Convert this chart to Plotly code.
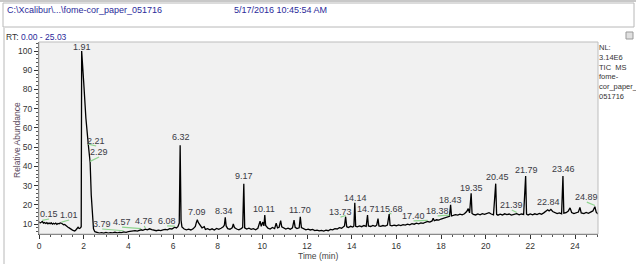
import plotly.graph_objects as go

# ---- data ----
rt = [0.00,0.05,0.10,0.15,0.20,0.25,0.30,0.35,0.40,0.45,0.50,0.55,0.60,0.65,0.70,0.75,0.80,0.85,0.90,0.95,
      1.01,1.05,1.10,1.15,1.20,1.25,1.30,1.35,1.40,1.45,1.50,1.55,1.60,1.65,1.70,1.75,1.80,1.85,1.89,1.91,
      2.00,2.10,2.21,2.29,2.34,2.39,2.44,2.50,2.60,2.70,2.80,2.90,3.00,3.10,3.20,3.30,3.40,3.50,3.60,3.70,
      3.79,3.90,4.00,4.10,4.20,4.30,4.40,4.50,4.57,4.65,4.76,4.85,4.95,5.05,5.15,5.25,5.35,5.45,5.55,5.65,
      5.75,5.85,5.95,6.08,6.15,6.22,6.28,6.32,6.36,6.40,6.50,6.60,6.70,6.80,6.90,7.00,7.05,7.09,7.13,7.20,
      7.30,7.40,7.45,7.55,7.65,7.75,7.85,7.95,8.05,8.15,8.25,8.30,8.34,8.38,8.45,8.55,8.65,8.70,8.75,8.85,
      8.95,9.05,9.12,9.17,9.21,9.30,9.40,9.50,9.60,9.70,9.80,9.90,9.95,10.02,10.07,10.11,10.15,10.25,10.35,10.45,
      10.55,10.62,10.68,10.75,10.82,10.87,10.95,11.05,11.15,11.25,11.35,11.42,11.47,11.55,11.65,11.70,11.75,11.85,11.95,12.05,
      12.15,12.25,12.35,12.45,12.55,12.65,12.75,12.85,12.95,13.05,13.15,13.25,13.35,13.45,13.55,13.62,13.68,13.73,13.78,13.85,
      13.95,14.05,14.10,14.14,14.18,14.25,14.35,14.45,14.55,14.65,14.71,14.75,14.85,14.95,15.05,15.12,15.18,15.22,15.30,15.40,
      15.50,15.60,15.68,15.72,15.80,15.90,16.00,16.10,16.20,16.30,16.40,16.50,16.60,16.70,16.80,16.90,17.00,17.10,17.20,17.30,
      17.40,17.50,17.60,17.65,17.70,17.80,17.90,18.00,18.10,18.20,18.30,18.38,18.43,18.47,18.55,18.65,18.75,18.85,18.95,19.05,
      19.15,19.22,19.28,19.35,19.39,19.45,19.55,19.65,19.75,19.85,19.95,20.05,20.15,20.25,20.35,20.45,20.49,20.55,20.65,20.75,
      20.85,20.95,21.05,21.15,21.25,21.39,21.50,21.60,21.70,21.79,21.83,21.90,22.00,22.10,22.20,22.30,22.40,22.50,22.60,22.70,
      22.78,22.84,22.92,23.00,23.10,23.20,23.30,23.40,23.46,23.50,23.60,23.70,23.78,23.85,23.95,24.05,24.15,24.22,24.28,24.40,
      24.50,24.60,24.70,24.80,24.89,24.95,25.03]
abundance = [11.2,10.6,10.9,11.3,10.5,10.8,10.3,10.7,10.1,10.5,10.2,10.6,9.9,10.4,10.0,10.5,9.8,10.3,10.1,10.6,
             10.4,9.9,9.6,9.8,9.1,8.8,8.3,8.0,7.5,7.2,6.8,6.6,6.4,6.9,7.6,8.3,7.7,7.9,8.6,100,
             84,65,51,42,25,12,7.5,6.0,5.6,5.3,5.5,5.2,5.6,5.3,5.5,5.4,5.7,5.4,5.6,5.5,
             5.9,5.7,6.0,6.2,6.1,6.5,6.3,6.8,7.0,6.7,7.3,7.0,7.5,7.1,6.8,6.5,6.8,6.6,7.0,7.2,
             7.0,7.6,7.4,8.3,7.9,8.6,10.5,51,12,8.5,7.4,7.0,7.3,6.9,7.5,8.8,11.0,12.2,10.8,9.5,
             8.0,8.6,7.2,7.6,7.0,7.5,6.9,7.7,7.2,7.8,8.5,9.5,13.5,9.0,7.6,7.3,8.0,10.0,8.2,7.4,
             7.0,7.6,8.2,31,8.0,7.4,7.8,7.2,7.6,7.0,7.8,11.5,8.8,11.0,9.0,14.6,9.2,7.8,7.4,8.2,
             7.6,10.4,8.0,8.3,11.8,8.5,7.9,7.4,7.8,7.3,8.0,12.0,8.3,7.6,8.0,13.8,8.2,7.4,7.0,7.3,
             6.9,7.2,6.6,6.8,6.4,6.7,6.3,6.8,6.5,7.2,7.0,7.6,7.4,8.1,7.8,8.4,9.0,13.8,8.6,8.2,
             8.8,8.4,9.0,21,8.8,8.5,9.0,8.6,9.2,8.8,14.6,9.0,8.7,9.3,8.8,9.4,12.8,9.0,8.8,9.2,
             8.9,9.4,15.2,9.3,9.0,9.4,9.1,9.5,9.2,9.7,9.4,9.9,9.6,10.2,9.9,10.4,10.1,10.6,10.3,10.9,
             11.3,11.0,11.6,13.0,11.7,12.2,12.0,12.6,12.9,13.2,13.6,14.0,20,14.2,14.5,14.9,14.6,15.1,14.8,15.3,
             16.5,18.0,15.8,26,15.5,15.0,14.7,15.2,14.8,15.4,15.0,15.6,15.9,15.2,14.8,31,15.0,14.6,15.1,14.7,
             15.3,14.9,15.2,14.6,15.0,15.4,14.8,15.2,15.0,35,15.1,14.7,15.2,14.8,15.3,14.9,15.5,15.1,15.8,16.6,
             17.4,16.8,17.6,16.5,16.0,15.4,15.8,15.3,35,15.6,15.9,16.8,18.4,16.0,15.4,15.7,16.2,18.6,15.8,15.4,
             16.0,15.6,16.4,16.8,19.0,16.2,15.2]

peak_labels = ["1.91","2.21","2.29","0.15","1.01","3.79","4.57","4.76","6.08","6.32","7.09","8.34","9.17",
               "10.11","11.70","13.73","14.14","14.71","15.68","17.40","18.38","18.43","19.35","20.45",
               "21.39","21.79","22.84","23.46","24.89"]
# label anchor positions (time, abundance) where the software placed the text
label_x = [1.93,2.56,2.69,0.45,1.35,2.83,3.72,4.71,5.74,6.37,7.09,8.30,9.19,
           10.09,11.70,13.50,14.17,14.75,15.78,16.77,17.85,18.43,19.37,20.54,
           21.17,21.84,22.83,23.50,24.53]
label_y = [102.1,53.2,47.5,15.2,14.7,10.0,11.0,11.6,11.6,55.3,16.2,16.8,35.0,
           17.8,17.3,16.2,23.5,17.8,17.8,14.2,16.8,22.5,28.7,34.5,
           19.9,38.1,21.4,38.6,24.0]
# labels displaced from their peak get a green leader line
leader_labels = ["2.21","2.29","0.15","1.01","3.79","4.57","4.76","6.08","13.73","15.68","17.40","18.38","21.39","24.89"]
leader_from_y = [51,42,11.3,10.4,5.9,7.0,7.3,8.3,13.8,15.2,11.3,14.0,15.4,19.0]

fig = go.Figure()
fig.add_trace(go.Scatter(x=rt, y=abundance, mode="lines",
                         line=dict(color="black", width=1.3), hoverinfo="skip", showlegend=False))

shapes = []
for name, fy in zip(leader_labels, leader_from_y):
    i = peak_labels.index(name)
    t = float(name)
    shapes.append(dict(type="line", xref="x", yref="y", x0=t, y0=fy + 0.6,
                       x1=label_x[i], y1=label_y[i] - 2.6,
                       line=dict(color="#8fd48f", width=1.2)))

annotations = []
for txt, x, y in zip(peak_labels, label_x, label_y):
    annotations.append(dict(x=x, y=y, xref="x", yref="y", text=txt, showarrow=False,
                            font=dict(family="Arial", size=9, color="#3a3a44")))

W, H = 636, 264
L, R, T, B = 39, 598, 42, 234
def px(x):
    return (x - L) / (R - L)
def py(y):
    return (B - y) / (B - T)

# frames around the page
shapes.append(dict(type="rect", xref="paper", yref="paper", x0=px(3), x1=px(634), y0=py(3), y1=py(27),
                   line=dict(color="#b8b8b8", width=1), layer="below"))
shapes.append(dict(type="line", xref="paper", yref="paper", x0=px(4), x1=px(4), y0=py(28), y1=py(264),
                   line=dict(color="#b8b8b8", width=1)))
shapes.append(dict(type="line", xref="paper", yref="paper", x0=px(0), x1=px(636), y0=py(1), y1=py(1),
                   line=dict(color="#c8c8c8", width=2)))
shapes.append(dict(type="rect", xref="paper", yref="paper", x0=px(626), x1=px(633), y0=py(32), y1=py(39),
                   line=dict(color="#999999", width=1), fillcolor="#e0e0e0"))

blue = "#2a2a9a"
annotations += [
    dict(xref="paper", yref="paper", x=px(5), y=py(10), xanchor="left", yanchor="middle",
         text="C:\\Xcalibur\\...\\fome-cor_paper_051716", showarrow=False,
         font=dict(family="Arial", size=9, color=blue)),
    dict(xref="paper", yref="paper", x=px(232), y=py(10), xanchor="left", yanchor="middle",
         text="5/17/2016 10:45:54 AM", showarrow=False,
         font=dict(family="Arial", size=9, color=blue)),
    dict(xref="paper", yref="paper", x=px(4), y=py(37), xanchor="left", yanchor="middle",
         text="RT: <span style='color:%s'>0.00 - 25.03</span>" % blue, showarrow=False,
         font=dict(family="Arial", size=8.5, color="#333333")),
    dict(xref="paper", yref="paper", x=px(597), y=py(41), xanchor="left", yanchor="top", align="left",
         text="NL:<br>3.14E6<br>TIC  MS<br>fome-<br>cor_paper_<br>051716", showarrow=False,
         font=dict(family="Arial", size=7.5, color="#333333")),
    dict(xref="paper", yref="paper", x=px(318), y=py(256), xanchor="center", yanchor="middle",
         text="Time (min)", showarrow=False, font=dict(family="Arial", size=8.5, color="#444444")),
    dict(xref="paper", yref="paper", x=px(17), y=py(140), xanchor="center", yanchor="middle",
         text="Relative Abundance", showarrow=False, textangle=-90,
         font=dict(family="Arial", size=8.5, color="#5c4a5c")),
]

fig.update_layout(
    width=W, height=H, margin=dict(l=L, r=W - R, t=T, b=H - B),
    paper_bgcolor="white", plot_bgcolor="#f1f1f1",
    shapes=shapes, annotations=annotations, showlegend=False,
    xaxis=dict(range=[0, 25.03], tickmode="linear", tick0=0, dtick=2, ticks="outside", ticklen=4,
               tickcolor="#333333", showgrid=False, zeroline=False, showline=True, linecolor="#555555",
               mirror=False, tickfont=dict(family="Arial", size=8.5, color="#333333"),
               minor=dict(dtick=0.5, ticks="outside", ticklen=2, tickcolor="#555555")),
    yaxis=dict(range=[4.8, 104.7], tickmode="array", tickvals=[10,20,30,40,50,60,70,80,90,100],
               ticks="outside", ticklen=4, tickcolor="#333333", showgrid=False, zeroline=False,
               showline=True, linecolor="#555555", tickfont=dict(family="Arial", size=8.5, color="#333333"),
               minor=dict(tickvals=[6,8,12,14,16,18,22,24,26,28,32,34,36,38,42,44,46,48,52,54,56,58,
                                    62,64,66,68,72,74,76,78,82,84,86,88,92,94,96,98,102,104],
                          ticks="outside", ticklen=2, tickcolor="#555555")),
)
# light box on top/right of plot area
fig.add_shape(type="rect", xref="paper", yref="paper", x0=0, x1=1, y0=0, y1=1,
              line=dict(color="#bdbdbd", width=1))

fig.write_html("out.html", config={"displayModeBar": False},
               post_script="document.body.style.margin='0px';document.body.style.overflow='hidden';")
